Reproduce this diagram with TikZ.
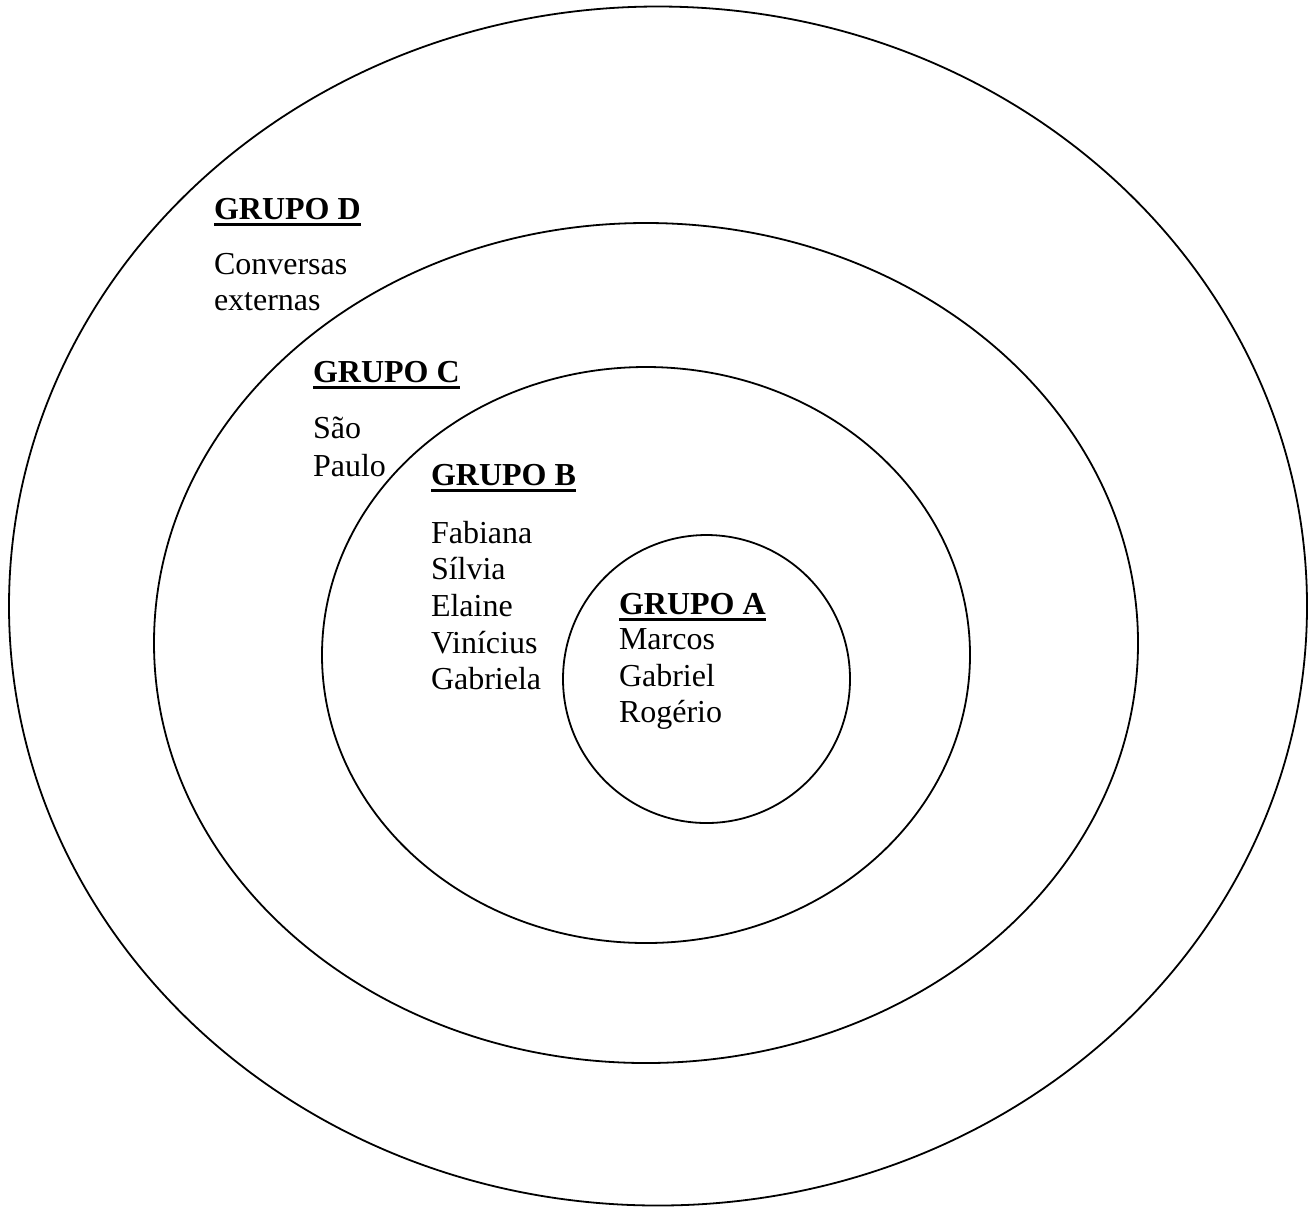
\documentclass[tikz,border=0pt]{standalone}
\usepackage{fontspec}
\setmainfont{Liberation Serif}
\usetikzlibrary{shapes.geometric}
\newcommand{\grpul}[1]{\setbox0\hbox{\bfseries #1}\rlap{\rule[-3.5pt]{\wd0}{1.7pt}}\box0}
\tikzset{
  ring/.style={draw, ellipse, line width=0.9pt, inner sep=0pt, outer sep=0pt},
  txt/.style={anchor=base west, inner sep=0pt, outer sep=0pt, font=\fontsize{16pt}{19pt}\selectfont},
}
\begin{document}
\begin{tikzpicture}[x=0.5pt, y=-0.5pt]
\useasboundingbox (0,0) rectangle (1311,1207);
\node[ring, minimum width=649pt, minimum height=599.5pt] (ringD) at (658,606) {};
\node[ring, minimum width=492pt, minimum height=420pt] (ringC) at (646,643) {};
\node[ring, minimum width=324pt, minimum height=288pt] (ringB) at (646,655) {};
\node[ring, minimum width=143.5pt, minimum height=144pt] (ringA) at (706.5,679) {};
% Grupo D
\node[txt] (hD) at (214,219) {\grpul{GRUPO D}};
\node[txt] (d1) at (214,274) {Conversas};
\node[txt] (d2) at (214,310) {externas};
% Grupo C
\node[txt] (hC) at (313,382) {\grpul{GRUPO C}};
\node[txt] (c1) at (313,438) {São};
\node[txt] (c2) at (313,476) {Paulo};
% Grupo B
\node[txt] (hB) at (431,485) {\grpul{GRUPO B}};
\node[txt] (b1) at (431,543) {Fabiana};
\node[txt] (b2) at (431,579) {Sílvia};
\node[txt] (b3) at (431,616) {Elaine};
\node[txt] (b4) at (431,653) {Vinícius};
\node[txt] (b5) at (431,689) {Gabriela};
% Grupo A
\node[txt] (hA) at (619,614) {\grpul{GRUPO A}};
\node[txt] (a1) at (619,649) {Marcos};
\node[txt] (a2) at (619,686) {Gabriel};
\node[txt] (a3) at (619,722) {Rogério};
\end{tikzpicture}
\end{document}
